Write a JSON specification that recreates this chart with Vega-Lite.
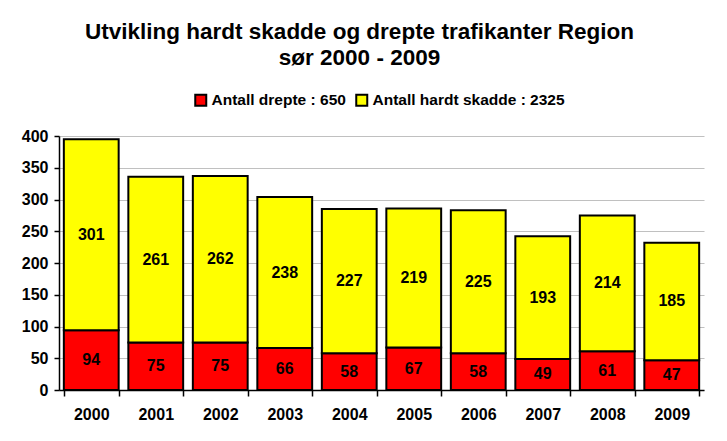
{
  "$schema": "https://vega.github.io/schema/vega-lite/v6.json",
  "width": 645,
  "height": 254,
  "autosize": {"type": "none"},
  "padding": {"left": 59, "top": 136, "right": 23, "bottom": 51},
  "background": "white",
  "config": {
    "font": "Liberation Sans",
    "view": {"stroke": null}
  },
  "title": {
    "text": ["Utvikling hardt skadde og drepte trafikanter Region", "sør 2000 - 2009"],
    "font": "Liberation Sans",
    "fontSize": 22.5,
    "fontWeight": "bold",
    "color": "black",
    "lineHeight": 26,
    "anchor": "middle",
    "dx": -22,
    "offset": 23
  },
  "data": {
    "values": [
      {"year": "2000", "serie": "Antall drepte : 650", "ord": 1, "value": 94},
      {"year": "2001", "serie": "Antall drepte : 650", "ord": 1, "value": 75},
      {"year": "2002", "serie": "Antall drepte : 650", "ord": 1, "value": 75},
      {"year": "2003", "serie": "Antall drepte : 650", "ord": 1, "value": 66},
      {"year": "2004", "serie": "Antall drepte : 650", "ord": 1, "value": 58},
      {"year": "2005", "serie": "Antall drepte : 650", "ord": 1, "value": 67},
      {"year": "2006", "serie": "Antall drepte : 650", "ord": 1, "value": 58},
      {"year": "2007", "serie": "Antall drepte : 650", "ord": 1, "value": 49},
      {"year": "2008", "serie": "Antall drepte : 650", "ord": 1, "value": 61},
      {"year": "2009", "serie": "Antall drepte : 650", "ord": 1, "value": 47},
      {"year": "2000", "serie": "Antall hardt skadde : 2325", "ord": 2, "value": 301},
      {"year": "2001", "serie": "Antall hardt skadde : 2325", "ord": 2, "value": 261},
      {"year": "2002", "serie": "Antall hardt skadde : 2325", "ord": 2, "value": 262},
      {"year": "2003", "serie": "Antall hardt skadde : 2325", "ord": 2, "value": 238},
      {"year": "2004", "serie": "Antall hardt skadde : 2325", "ord": 2, "value": 227},
      {"year": "2005", "serie": "Antall hardt skadde : 2325", "ord": 2, "value": 219},
      {"year": "2006", "serie": "Antall hardt skadde : 2325", "ord": 2, "value": 225},
      {"year": "2007", "serie": "Antall hardt skadde : 2325", "ord": 2, "value": 193},
      {"year": "2008", "serie": "Antall hardt skadde : 2325", "ord": 2, "value": 214},
      {"year": "2009", "serie": "Antall hardt skadde : 2325", "ord": 2, "value": 185}
    ]
  },
  "encoding": {
    "x": {
      "field": "year", "type": "nominal",
      "scale": {"paddingInner": 0.15, "paddingOuter": 0.075},
      "axis": {
        "title": null, "labelAngle": 0, "labelFont": "Liberation Sans", "labelFontSize": 16,
        "labelFontWeight": "bold", "labelColor": "black", "labelPadding": 10,
        "domainColor": "black", "domainWidth": 1.5, "tickColor": "black", "tickSize": 6, "tickWidth": 1.5,
        "tickBand": "extent", "grid": false
      }
    },
    "y": {
      "field": "value", "type": "quantitative", "stack": "zero",
      "scale": {"domain": [0, 400]},
      "axis": {
        "title": null, "values": [0, 50, 100, 150, 200, 250, 300, 350, 400],
        "labelFont": "Liberation Sans", "labelFontSize": 16, "labelFontWeight": "bold", "labelColor": "black",
        "labelPadding": 6, "domainColor": "black", "domainWidth": 1.5, "tickColor": "black", "tickSize": 5, "tickWidth": 1.5,
        "gridColor": "#C0C0C0", "gridWidth": 1.2
      }
    },
    "order": {"field": "ord", "type": "quantitative"}
  },
  "layer": [
    {
      "mark": {"type": "bar", "stroke": "black", "strokeWidth": 2},
      "encoding": {
        "color": {
          "field": "serie", "type": "nominal",
          "scale": {"domain": ["Antall drepte : 650", "Antall hardt skadde : 2325"], "range": ["#FF0000", "#FFFF00"]},
          "legend": {
            "title": null, "orient": "none", "direction": "horizontal", "legendX": 134, "legendY": -44,
            "symbolType": "square", "symbolSize": 121, "symbolStrokeColor": "black", "symbolStrokeWidth": 2,
            "symbolOpacity": 1, "labelFont": "Liberation Sans", "labelFontSize": 15.5, "labelFontWeight": "bold",
            "labelColor": "black", "labelLimit": 300, "columnPadding": 6, "labelOffset": 3, "padding": 0
          }
        }
      }
    },
    {
      "mark": {"type": "text", "font": "Liberation Sans", "fontSize": 16, "fontWeight": "bold", "color": "black"},
      "encoding": {
        "y": {"field": "value", "type": "quantitative", "stack": "zero", "bandPosition": 0.5},
        "text": {"field": "value", "type": "quantitative"}
      }
    }
  ]
}
